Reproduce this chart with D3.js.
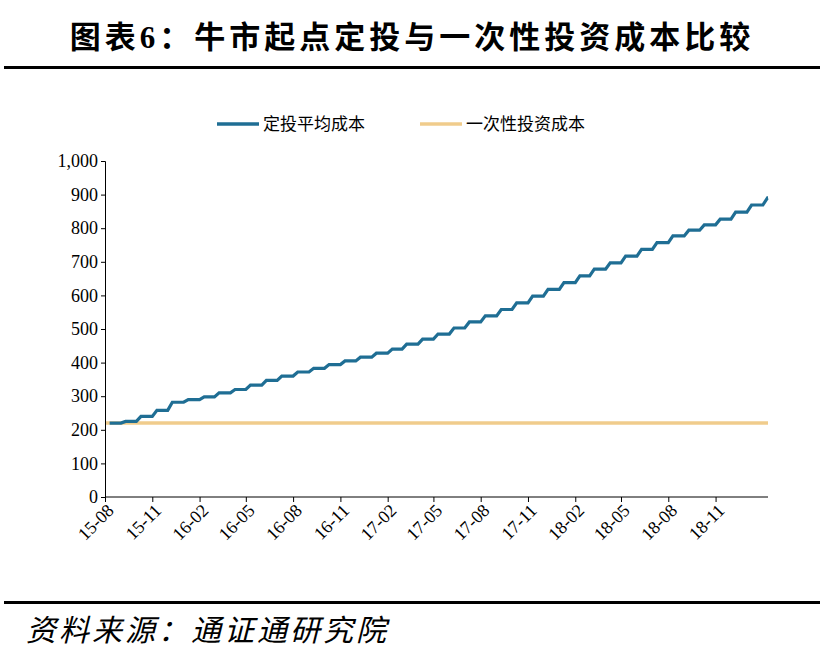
<!DOCTYPE html>
<html lang="zh">
<head>
<meta charset="utf-8">
<title>图表6</title>
<script src="https://cdn.jsdelivr.net/npm/d3@7"></script>
<style>
  body { margin: 0; background: #fff; }
  text { font-family: "Liberation Serif", "Noto Sans CJK SC", serif; }
</style>
</head>
<body>
<div id="chart"></div>
<script>
  // monthly sample of the averaged DCA cost, 2015-08 .. 2019-02
  var startMonth = "2015-08";
  var dcaCost = [220, 225, 240, 258, 282, 290, 298, 310, 320, 333, 347, 360, 372, 383, 394, 405,
                 416, 428, 440, 455, 470, 485, 503, 521, 539, 558, 578, 598, 618, 638, 658, 678,
                 697, 717, 737, 757, 777, 794, 810, 827, 848, 869, 890];
  var lumpCost = 220;
  var yTicks = [0, 100, 200, 300, 400, 500, 600, 700, 800, 900, 1000];
  var seriesNames = ["定投平均成本", "一次性投资成本"];
  var seriesColors = ["#1f6e94", "#f0cc8c"];

  var W = 824, H = 670;
  var svg = d3.select("#chart").append("svg").attr("width", W).attr("height", H);

  // header & footer
  svg.append("text").attr("x", W / 2).attr("y", 48).attr("text-anchor", "middle")
     .attr("font-size", 31).attr("font-weight", "bold").attr("letter-spacing", 4)
     .text("图表6：牛市起点定投与一次性投资成本比较");
  svg.append("rect").attr("x", 4).attr("y", 66).attr("width", 816).attr("height", 3).attr("fill", "#000");
  svg.append("rect").attr("x", 4).attr("y", 601).attr("width", 816).attr("height", 3).attr("fill", "#000");
  svg.append("text").attr("x", 26).attr("y", 641).attr("font-size", 30).attr("font-style", "italic")
     .attr("letter-spacing", 3).text("资料来源：通证通研究院");

  var parse = d3.utcParse("%Y-%m");
  var t0 = parse(startMonth);
  var dates = dcaCost.map(function (d, i) { return d3.utcMonth.offset(t0, i); });
  var tEnd = d3.utcDay.offset(dates[dates.length - 1], 10);

  var x = d3.scaleUtc().domain([t0, tEnd]).range([105, 768]);
  var y = d3.scaleLinear().domain([0, 1000]).range([497, 161]);

  // stair-like path: each month the cost rises over the first days, then stays flat
  var pts = [];
  dcaCost.forEach(function (v, i) {
    if (i > 0) pts.push([dates[i], dcaCost[i - 1]]);
    pts.push([d3.utcDay.offset(dates[i], 9), v]);
  });
  pts.push([tEnd, dcaCost[dcaCost.length - 1]]);

  var line = d3.line().x(function (d) { return x(d[0]); }).y(function (d) { return y(d[1]); });

  svg.append("path").datum([[t0, lumpCost], [tEnd, lumpCost]]).attr("d", line)
     .attr("fill", "none").attr("stroke", seriesColors[1]).attr("stroke-width", 3.5);
  svg.append("path").datum(pts).attr("d", line)
     .attr("fill", "none").attr("stroke", seriesColors[0]).attr("stroke-width", 3.2);

  // axes
  var yAxis = svg.append("g").attr("transform", "translate(105,0)")
     .call(d3.axisLeft(y).tickValues(yTicks).tickSize(4).tickFormat(d3.format(",")));
  yAxis.selectAll("text").attr("font-size", 18).attr("fill", "#000")
     .attr("font-family", "Liberation Serif");
  yAxis.selectAll("line, path").attr("stroke", "#000");

  var xTicks = d3.range(0, 40, 3).map(function (i) { return dates[i]; });
  var xAxis = svg.append("g").attr("transform", "translate(0,497)")
     .call(d3.axisBottom(x).tickValues(xTicks).tickSize(5).tickFormat(d3.utcFormat("%y-%m")));
  xAxis.select(".domain").attr("d", "M105,0H768");
  xAxis.selectAll("line, path").attr("stroke", "#000");
  xAxis.selectAll("text").attr("font-size", 18).attr("fill", "#000")
     .attr("font-family", "Liberation Serif")
     .attr("text-anchor", "end").attr("dx", "-0.2em").attr("dy", "0.5em")
     .attr("transform", "rotate(-45)");

  // legend
  var lx = [217, 420];
  seriesNames.forEach(function (n, i) {
    svg.append("line").attr("x1", lx[i]).attr("x2", lx[i] + 42).attr("y1", 124).attr("y2", 124)
       .attr("stroke", seriesColors[i]).attr("stroke-width", 3.5);
    svg.append("text").attr("x", lx[i] + 46).attr("y", 130).attr("font-size", 17).text(n);
  });
</script>
</body>
</html>
